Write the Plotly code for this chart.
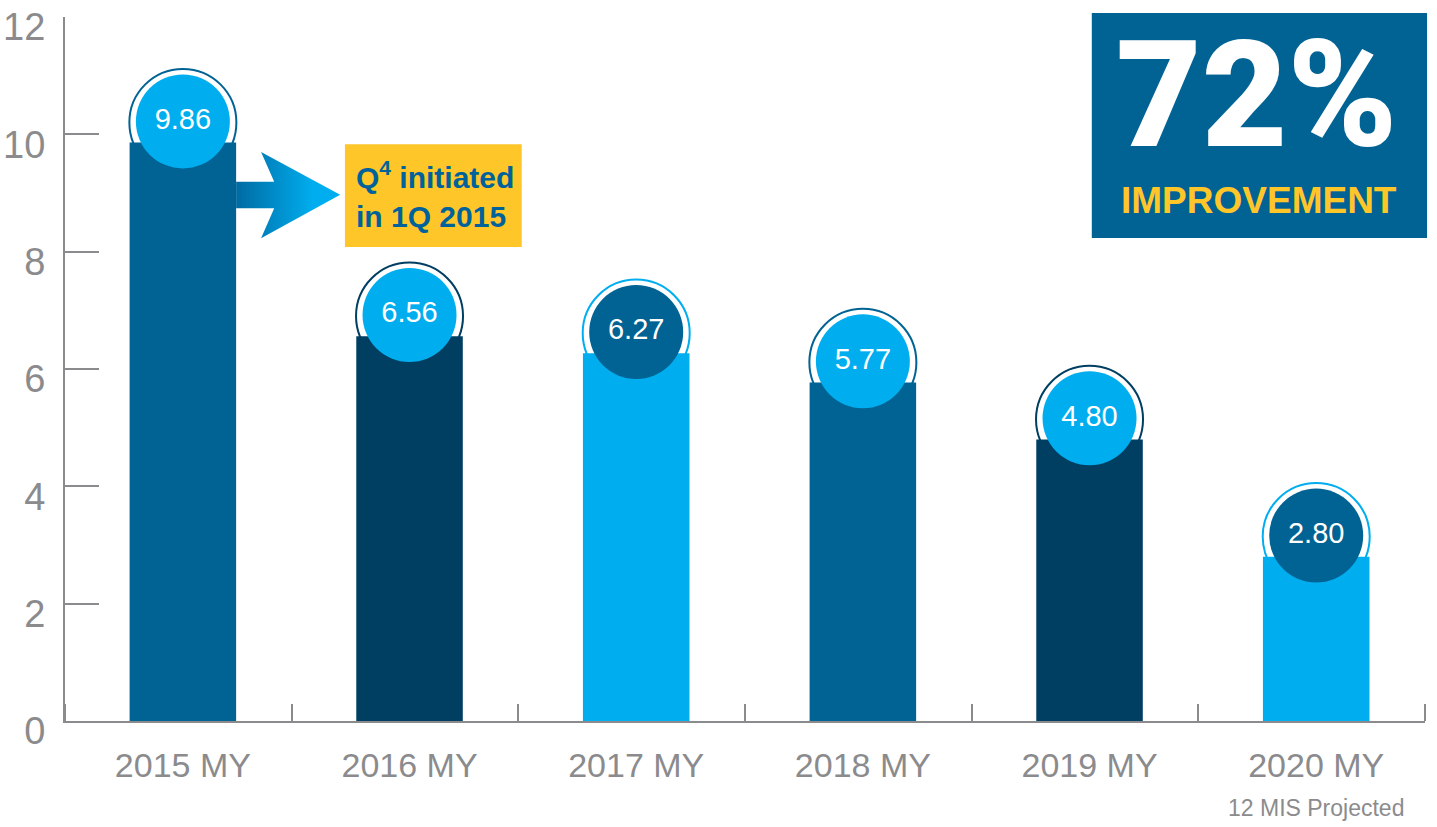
import plotly.graph_objects as go

# Model-year categories and their values
categories = ["2015 MY", "2016 MY", "2017 MY", "2018 MY", "2019 MY", "2020 MY"]
values = [9.86, 6.56, 6.27, 5.77, 4.80, 2.80]
value_labels = ["9.86", "6.56", "6.27", "5.77", "4.80", "2.80"]
y_ticks = [0, 2, 4, 6, 8, 10, 12]

MID = "#006394"
DARK = "#003E62"
LIGHT = "#00AEEF"
YELLOW = "#FFC629"
GRAY = "#8B8B8E"

bar_colors = [MID, DARK, LIGHT, MID, DARK, LIGHT]
bubble_colors = [LIGHT, LIGHT, MID, LIGHT, LIGHT, MID]

SANS = "Liberation Sans, Arial, sans-serif"

x_pos = list(range(len(categories)))
bar_w = 0.47
bubble_lift = 0.36  # bubble centre sits slightly above the bar top

fig = go.Figure()

fig.add_trace(go.Bar(
    x=x_pos, y=values, width=bar_w,
    marker=dict(color=bar_colors, line=dict(width=0)),
    hoverinfo="skip",
))

# gradient arrow pointing from the first bar to the callout box
x0 = x_pos[0] + bar_w / 2
arrow_x = [x0, x0 + 0.168, x0 + 0.110, x0 + 0.459, x0 + 0.110, x0 + 0.168, x0, x0]
arrow_y = [9.19, 9.19, 9.70, 8.97, 8.23, 8.74, 8.74, 9.19]
fig.add_trace(go.Scatter(
    x=arrow_x, y=arrow_y, mode="lines", fill="toself",
    line=dict(width=0, color="rgba(0,0,0,0)"),
    fillgradient=dict(type="horizontal",
                      colorscale=[[0, "#006BA3"], [0.75, LIGHT], [1, LIGHT]]),
    hoverinfo="skip",
))

# value bubbles
fig.add_trace(go.Scatter(
    x=x_pos, y=[v + bubble_lift for v in values],
    mode="markers+text",
    marker=dict(size=94, color=bubble_colors, line=dict(width=0), opacity=1),
    text=value_labels, textposition="middle center",
    textfont=dict(family=SANS, size=29, color="white"),
    hoverinfo="skip",
))

shapes = []
# thin outer rings behind the bubbles, drawn beneath the bars
for i, v in enumerate(values):
    shapes.append(dict(
        type="circle", layer="below",
        xref="x", yref="y", xsizemode="pixel", ysizemode="pixel",
        xanchor=x_pos[i], yanchor=v + bubble_lift,
        x0=-53.5, x1=53.5, y0=-54.5, y1=52.5,
        line=dict(color=bar_colors[i], width=2), fillcolor="white",
    ))

# callout box
shapes.append(dict(type="rect", xref="x", yref="y", layer="above",
                   x0=0.715, x1=1.495, y0=8.08, y1=9.83,
                   fillcolor=YELLOW, line=dict(width=0)))
# headline box
shapes.append(dict(type="rect", xref="paper", yref="paper", layer="above",
                   x0=0.755, x1=1.0015, y0=0.686, y1=1.0057,
                   fillcolor=MID, line=dict(width=0)))

annotations = [
    dict(x=0.757, y=8.97, xref="x", yref="y", xanchor="left", yanchor="middle",
         align="left", showarrow=False,
         text="<b>Q<sup>4</sup> initiated<br>in 1Q 2015</b>",
         font=dict(family=SANS, size=30, color="#00629B")),
    dict(x=0.876, y=0.888, xref="paper", yref="paper", xanchor="center",
         yanchor="middle", showarrow=False, text="72%",
         font=dict(family="Roboto, sans-serif", size=148, color="white",
                   weight=900)),
    dict(x=0.878, y=0.740, xref="paper", yref="paper", xanchor="center",
         yanchor="middle", showarrow=False, text="<b>IMPROVEMENT</b>",
         font=dict(family=SANS, size=37, color=YELLOW)),
    dict(x=x_pos[-1], y=-0.124, xref="x", yref="paper", xanchor="center",
         yanchor="middle", showarrow=False, text="12 MIS Projected",
         font=dict(family=SANS, size=23, color=GRAY)),
]

fig.update_layout(
    width=1437, height=827,
    margin=dict(l=65, r=12, t=17, b=106),
    paper_bgcolor="white", plot_bgcolor="white",
    showlegend=False,
    shapes=shapes, annotations=annotations,
    xaxis=dict(
        range=[-0.52, 5.48], showgrid=False, zeroline=False, automargin=False,
        showline=True, linecolor=GRAY, linewidth=2,
        tickmode="array", tickvals=x_pos, ticktext=categories,
        ticks="", tickfont=dict(family=SANS, size=34, color=GRAY),
        ticklabelstandoff=13,
        minor=dict(tickmode="array",
                   tickvals=[k - 0.52 for k in range(len(categories) + 1)],
                   ticks="inside", ticklen=17, tickwidth=2, tickcolor=GRAY),
        fixedrange=True,
    ),
    yaxis=dict(
        range=[0, 12], showgrid=False, zeroline=False, automargin=False,
        showline=True, linecolor=GRAY, linewidth=2,
        tickmode="array", tickvals=y_ticks,
        ticks="inside", ticklen=34, tickwidth=2, tickcolor=GRAY,
        tickfont=dict(family=SANS, size=38, color=GRAY),
        ticklabelshift=10, ticklabelstandoff=10,
        fixedrange=True,
    ),
)

fig.write_html("out.html")
